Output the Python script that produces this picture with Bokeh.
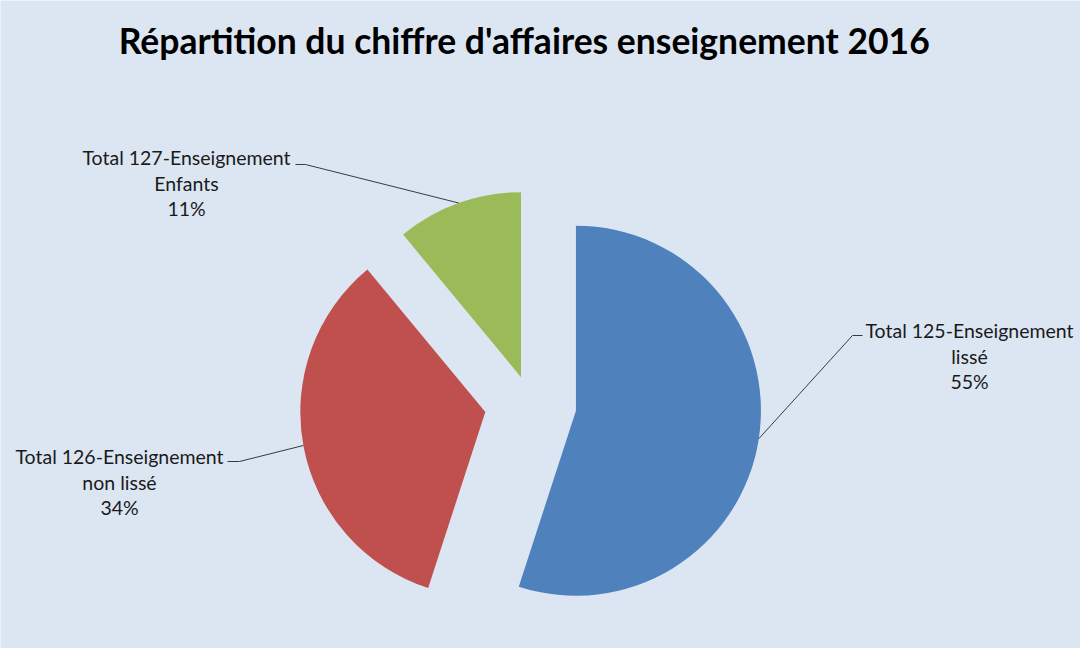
import math
from bokeh.plotting import figure
from bokeh.models import Range1d
from bokeh.core.properties import value
from bokeh.embed import file_html
from bokeh.resources import INLINE

# ---- data ----
title_text = "Répartition du chiffre d'affaires  enseignement 2016"
categories = ["Total 125-Enseignement\nlissé",
              "Total 126-Enseignement\nnon lissé",
              "Total 127-Enseignement\nEnfants"]
shares = [55, 34, 11]
colors = ["#4f81bd", "#c0504d", "#9bbb59"]

# ---- layout (screen pixels in the page) ----
W, H = 1080, 648
BG = "#dce6f2"
FONT = "Lato"
pie_center = (538, 411)          # screen coords
R = 185
explode = [46, 46, 28]
leader_angles = [-8.7, 190.4, 109.7]   # degrees, where the leader meets the arc
label_pos = [(977, 338), (127, 464), (194, 165)]  # centre of first label line
elbows = [((870, 343), (860, 343)), ((235, 469), (247, 469)), ((303, 172), (313, 172))]
line_gap = 25.5


def Y(sy):
    return 657 - sy


p = figure(width=W, height=H, output_backend="svg", toolbar_location=None,
           x_range=Range1d(8, 8 + W), y_range=Range1d(Y(8 + H), Y(8)),
           min_border=0, match_aspect=False)
p.xaxis.visible = False
p.yaxis.visible = False
p.grid.visible = False
p.outline_line_color = None
p.background_fill_color = BG
p.border_fill_color = BG

cx, cy = pie_center[0], Y(pie_center[1])
cum = 0.0
total = float(sum(shares))
for i, s in enumerate(shares):
    t0 = cum / total * 360.0
    t1 = (cum + s) / total * 360.0
    cum += s
    start = math.radians(90 - t1)
    end = math.radians(90 - t0)
    bis = math.radians(90 - (t0 + t1) / 2)
    ox = cx + explode[i] * math.cos(bis)
    oy = cy + explode[i] * math.sin(bis)
    p.wedge(x=[ox], y=[oy], radius=R, start_angle=[start], end_angle=[end],
            fill_color=colors[i], line_color=None)
    # leader line
    la = math.radians(leader_angles[i])
    ax = ox + R * math.cos(la)
    ay = oy + R * math.sin(la)
    (e0x, e0y), (e1x, e1y) = elbows[i]
    p.line(x=[e0x, e1x, ax], y=[Y(e0y), Y(e1y), ay], line_color="#3a3a3a",
           line_width=1)
    # label text
    lines = categories[i].split("\n") + ["%d%%" % round(s / total * 100)]
    lx, ly = label_pos[i]
    for k, t in enumerate(lines):
        p.text(x=[lx], y=[Y(ly + k * line_gap)], text=[t], text_align="center",
               text_baseline="middle", text_font=value(FONT),
               text_font_size="19.5px", text_color="#1a1a1a")

p.text(x=[536], y=[Y(48)], text=[title_text], text_align="center",
       text_baseline="middle", text_font=value(FONT), text_font_style="bold",
       text_font_size="35.5px", text_color="#000000")

open("out.html", "w").write(file_html(p, INLINE))
